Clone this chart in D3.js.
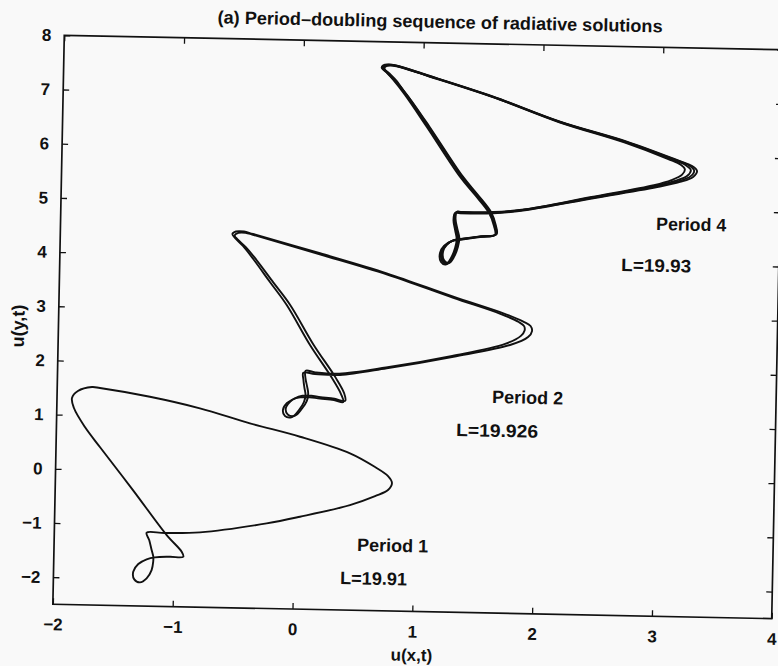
<!DOCTYPE html>
<html>
<head>
<meta charset="utf-8">
<script src="https://cdn.jsdelivr.net/npm/d3@7"></script>
<style>
  html, body { margin: 0; padding: 0; background: #f9f9f9; }
  svg { display: block; }
</style>
</head>
<body>
<svg id="fig" width="778" height="666"></svg>
<script>
// Axis ranges and ticks
const xDomain = [-2, 4];
const yDomain = [-2.5, 8];
const xTicks = [-2, -1, 0, 1, 2, 3, 4];
const yTicks = [-2, -1, 0, 1, 2, 3, 4, 5, 6, 7, 8];

// Orbit samples in the (u(x,t), u(y,t)) plane, one closed trace per array
const period1 = [
  [-1.634, 0.418], [-1.762, 0.781], [-1.857, 1.128], [-1.875, 1.312], [-1.827, 1.443],
  [-1.710, 1.522], [-1.643, 1.507], [-1.225, 1.364], [-0.806, 1.169], [-0.386, 0.911],
  [0.034, 0.682], [0.454, 0.394], [0.665, 0.151], [0.775, -0.011], [0.809, -0.138],
  [0.777, -0.269], [0.670, -0.385], [0.462, -0.560], [0.047, -0.794], [-0.230, -0.929],
  [-0.785, -1.119], [-1.077, -1.145], [-1.230, -1.147], [-1.207, -1.280], [-1.185, -1.464],
  [-1.170, -1.587], [-1.170, -1.679], [-1.182, -1.833], [-1.222, -1.988], [-1.277, -2.064],
  [-1.325, -2.011], [-1.335, -1.871], [-1.294, -1.727], [-1.225, -1.637], [-1.156, -1.597],
  [-1.031, -1.581], [-0.920, -1.576], [-0.934, -1.484], [-1.062, -1.182], [-1.351, -0.364]
];

const period2a = [
  [-0.386, 3.944], [-0.474, 4.180], [-0.542, 4.325], [-0.564, 4.398], [-0.535, 4.445],
  [-0.468, 4.448], [-0.392, 4.405], [0.170, 4.074], [0.730, 3.729], [1.290, 3.322],
  [1.710, 3.034], [1.878, 2.887], [1.939, 2.810], [1.952, 2.718], [1.920, 2.606],
  [1.771, 2.452], [1.300, 2.215], [0.746, 1.976], [0.357, 1.835], [0.148, 1.844],
  [0.051, 1.864], [0.053, 1.730], [0.063, 1.582], [0.073, 1.453], [0.061, 1.324],
  [0.021, 1.174], [-0.036, 1.042], [-0.095, 1.058], [-0.113, 1.168], [-0.080, 1.299],
  [-0.006, 1.394], [0.077, 1.417], [0.194, 1.394], [0.311, 1.372], [0.389, 1.338],
  [0.369, 1.485], [0.291, 1.777], [0.102, 2.378], [-0.099, 3.107], [-0.243, 3.526]
];
const period2b = [
  [-0.360, 3.930], [-0.450, 4.160], [-0.520, 4.300], [-0.545, 4.370], [-0.515, 4.420],
  [-0.455, 4.425], [-0.385, 4.385], [0.175, 4.050], [0.735, 3.705], [1.290, 3.300],
  [1.690, 3.020], [1.840, 2.880], [1.885, 2.805], [1.890, 2.725], [1.860, 2.625],
  [1.730, 2.470], [1.290, 2.230], [0.740, 1.990], [0.350, 1.860], [0.150, 1.875],
  [0.070, 1.900], [0.070, 1.760], [0.085, 1.610], [0.095, 1.480], [0.085, 1.345],
  [0.045, 1.200], [-0.010, 1.070], [-0.070, 1.085], [-0.090, 1.190], [-0.055, 1.320],
  [0.015, 1.420], [0.095, 1.445], [0.200, 1.420], [0.315, 1.395], [0.405, 1.360],
  [0.395, 1.500], [0.320, 1.790], [0.130, 2.390], [-0.070, 3.110], [-0.215, 3.520]
];

const period4a = [
  [0.753, 7.299], [0.690, 7.444], [0.654, 7.516], [0.664, 7.563], [0.708, 7.583],
  [0.773, 7.567], [1.030, 7.403], [1.590, 7.028], [2.151, 6.591], [2.711, 6.247],
  [3.131, 5.928], [3.260, 5.822], [3.302, 5.732], [3.270, 5.620], [3.162, 5.523],
  [2.996, 5.429], [2.441, 5.190], [1.888, 4.949], [1.609, 4.876], [1.332, 4.864],
  [1.290, 4.867], [1.278, 4.738], [1.293, 4.554], [1.308, 4.388], [1.296, 4.221],
  [1.264, 4.035], [1.223, 3.914], [1.181, 3.958], [1.171, 4.124], [1.203, 4.254],
  [1.269, 4.350], [1.353, 4.381], [1.502, 4.434], [1.627, 4.476], [1.617, 4.642],
  [1.574, 4.880], [1.454, 5.207], [1.325, 5.539], [1.039, 6.449], [0.853, 7.026]
];
const period4b = [
  [0.768, 7.290], [0.705, 7.430], [0.668, 7.505], [0.676, 7.552], [0.718, 7.572],
  [0.780, 7.556], [1.035, 7.392], [1.590, 7.020], [2.148, 6.585], [2.700, 6.240],
  [3.095, 5.935], [3.210, 5.830], [3.250, 5.745], [3.222, 5.640], [3.120, 5.540],
  [2.965, 5.445], [2.430, 5.205], [1.885, 4.965], [1.610, 4.900], [1.345, 4.890],
  [1.305, 4.892], [1.295, 4.760], [1.312, 4.575], [1.330, 4.410], [1.320, 4.245],
  [1.290, 4.062], [1.250, 3.945], [1.208, 3.985], [1.196, 4.148], [1.226, 4.276],
  [1.290, 4.372], [1.370, 4.400], [1.515, 4.450], [1.640, 4.490], [1.632, 4.655],
  [1.592, 4.890], [1.475, 5.215], [1.348, 5.545], [1.062, 6.450], [0.872, 7.022]
];
const period4c = [
  [0.780, 7.282], [0.716, 7.422], [0.678, 7.498], [0.686, 7.545], [0.727, 7.564],
  [0.787, 7.548], [1.040, 7.385], [1.592, 7.015], [2.145, 6.580], [2.690, 6.232],
  [3.060, 5.940], [3.165, 5.840], [3.200, 5.758], [3.178, 5.660], [3.090, 5.555],
  [2.945, 5.455], [2.425, 5.212], [1.882, 4.958], [1.606, 4.885], [1.336, 4.872],
  [1.296, 4.874], [1.284, 4.745], [1.300, 4.562], [1.316, 4.396], [1.305, 4.230],
  [1.273, 4.045], [1.233, 3.925], [1.192, 3.968], [1.181, 4.133], [1.212, 4.262],
  [1.277, 4.358], [1.360, 4.388], [1.507, 4.440], [1.632, 4.482], [1.624, 4.648],
  [1.583, 4.884], [1.466, 5.211], [1.338, 5.542], [1.052, 6.450], [0.864, 7.024]
];
const period4d = [
  [0.760, 7.295], [0.697, 7.438], [0.660, 7.511], [0.670, 7.558], [0.713, 7.578],
  [0.776, 7.562], [1.032, 7.398], [1.590, 7.024], [2.150, 6.588], [2.706, 6.244],
  [3.115, 5.932], [3.238, 5.826], [3.278, 5.738], [3.248, 5.630], [3.142, 5.532],
  [2.982, 5.437], [2.436, 5.198], [1.886, 4.957], [1.610, 4.890], [1.342, 4.882],
  [1.301, 4.884], [1.290, 4.752], [1.306, 4.568], [1.322, 4.402], [1.312, 4.236],
  [1.281, 4.052], [1.241, 3.934], [1.200, 3.976], [1.189, 4.140], [1.220, 4.268],
  [1.284, 4.365], [1.365, 4.395], [1.510, 4.445], [1.636, 4.486], [1.627, 4.650],
  [1.586, 4.886], [1.468, 5.212], [1.342, 5.543], [1.056, 6.450], [0.868, 7.024]
];

const traces = [period1, period2a, period2b, period4a, period4b, period4c, period4d];

// Annotations, anchored at the start of each label in data units
const annotations = [
  { text: "Period 1", x: 0.529, y: -1.406, len: 71 },
  { text: "L=19.91", x: 0.392, y: -2.021, len: 67 },
  { text: "Period 2", x: 1.630, y: 1.375, len: 71 },
  { text: "L=19.926", x: 1.335, y: 0.753, len: 82 },
  { text: "Period 4", x: 2.970, y: 4.628, len: 70 },
  { text: "L=19.93", x: 2.685, y: 3.858, len: 70 }
];

const titleText = "(a) Period\u2013doubling sequence of radiative solutions";
const xLabel = "u(x,t)";
const yLabel = "u(y,t)";

const frame = { left: 58.5, top: 42.5, right: 777.5, bottom: 611.5 };
const font = "'Liberation Sans', Arial, Helvetica, sans-serif";

const svg = d3.select("#fig");
svg.append("rect").attr("width", 778).attr("height", 666).attr("fill", "#f9f9f9");

// The printed figure sits slightly turned on the page
const fig = svg.append("g").attr("transform", "rotate(1.15,418,327)");

const x = d3.scaleLinear().domain(xDomain).range([frame.left, frame.right]);
const y = d3.scaleLinear().domain(yDomain).range([frame.bottom, frame.top]);

const tick = 6;
const fmt = d3.format("d");
function styleAxis(g) {
  g.select(".domain").remove();
  g.selectAll(".tick line").attr("stroke", "#111").attr("stroke-width", 1.3);
  g.selectAll(".tick text")
    .attr("fill", "#111")
    .style("font-family", font)
    .style("font-weight", "bold")
    .style("font-size", "17px");
}

fig.append("g")
  .attr("transform", `translate(0,${frame.bottom})`)
  .call(d3.axisBottom(x).tickValues(xTicks).tickFormat(fmt).tickSizeInner(-tick).tickSizeOuter(0).tickPadding(14))
  .call(styleAxis);
fig.append("g")
  .attr("transform", `translate(0,${frame.top})`)
  .call(d3.axisTop(x).tickValues(xTicks).tickSizeInner(-tick).tickSizeOuter(0).tickFormat(""))
  .call(styleAxis);
fig.append("g")
  .attr("transform", `translate(${frame.left},0)`)
  .call(d3.axisLeft(y).tickValues(yTicks).tickFormat(fmt).tickSizeInner(-tick).tickSizeOuter(0).tickPadding(13))
  .call(styleAxis);
fig.append("g")
  .attr("transform", `translate(${frame.right},0)`)
  .call(d3.axisRight(y).tickValues(yTicks).tickSizeInner(-tick).tickSizeOuter(0).tickFormat(""))
  .call(styleAxis);

// Axes box
fig.append("rect")
  .attr("x", frame.left).attr("y", frame.top)
  .attr("width", frame.right - frame.left).attr("height", frame.bottom - frame.top)
  .attr("fill", "none").attr("stroke", "#111").attr("stroke-width", 1.7);

// Orbits
const line = d3.line()
  .x(d => x(d[0]))
  .y(d => y(d[1]))
  .curve(d3.curveCatmullRomClosed.alpha(0.5));

fig.append("g").selectAll("path")
  .data(traces)
  .join("path")
  .attr("d", line)
  .attr("fill", "none")
  .attr("stroke", "#111")
  .attr("stroke-width", 1.9)
  .attr("stroke-linejoin", "round");

// Labels inside the plot
fig.append("g").selectAll("text")
  .data(annotations)
  .join("text")
  .attr("x", d => x(d.x))
  .attr("y", d => y(d.y))
  .attr("textLength", d => d.len)
  .attr("lengthAdjust", "spacingAndGlyphs")
  .attr("fill", "#111")
  .style("font-family", font)
  .style("font-weight", "bold")
  .style("font-size", "18px")
  .text(d => d.text);

// Title and axis labels
fig.append("text")
  .attr("x", 434).attr("y", 27.5)
  .attr("text-anchor", "middle")
  .attr("textLength", 445)
  .attr("lengthAdjust", "spacingAndGlyphs")
  .attr("fill", "#111")
  .style("font-family", font)
  .style("font-weight", "bold")
  .style("font-size", "18px")
  .text(titleText);

fig.append("text")
  .attr("x", 418).attr("y", 661)
  .attr("text-anchor", "middle")
  .attr("fill", "#111")
  .style("font-family", font)
  .style("font-weight", "bold")
  .style("font-size", "17px")
  .text(xLabel);

fig.append("text")
  .attr("transform", "translate(18,334) rotate(-90)")
  .attr("text-anchor", "middle")
  .attr("dy", "0.35em")
  .attr("fill", "#111")
  .style("font-family", font)
  .style("font-weight", "bold")
  .style("font-size", "18px")
  .text(yLabel);
</script>
</body>
</html>
